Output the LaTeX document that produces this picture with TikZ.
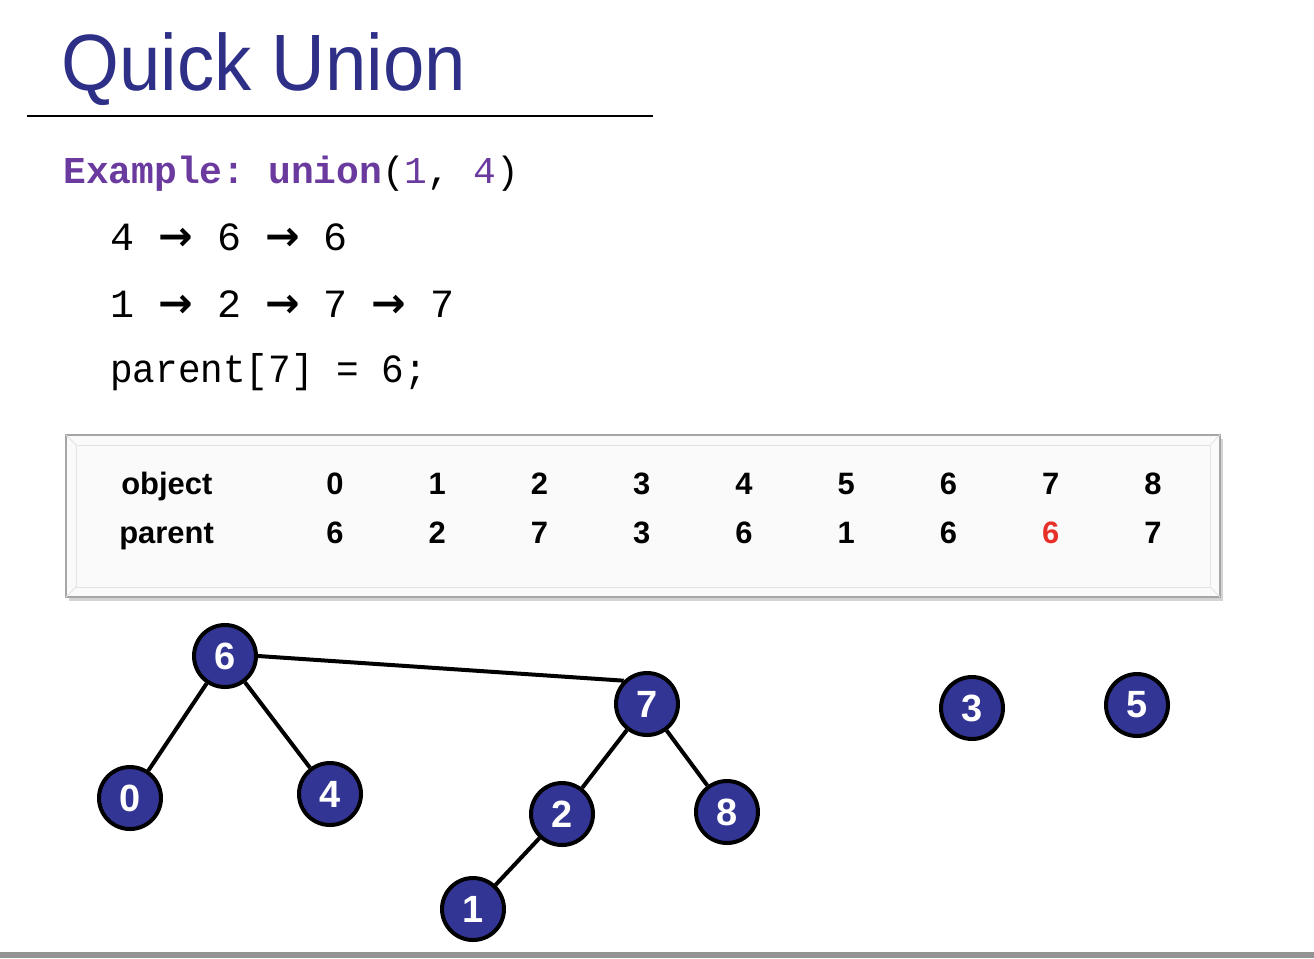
\documentclass[tikz,border=0pt]{standalone}
\usepackage{fontspec}
\usepackage{xcolor}
\setmainfont{Liberation Sans}
\setmonofont{Liberation Mono}
\newfontfamily\titlefont[FakeStretch=0.93]{Liberation Sans}
\newfontfamily\narrowmono[FakeStretch=0.94]{Liberation Mono}
\newfontfamily\arrowfont{DejaVu Sans}
\usetikzlibrary{positioning,backgrounds,shadows}
\definecolor{qublue}{HTML}{2E2F87}
\definecolor{qupurple}{HTML}{6A3A9E}
\definecolor{qufill}{HTML}{333594}
\definecolor{qured}{HTML}{E8302A}
\newcommand\codefont{\ttfamily\fontsize{22.8pt}{27pt}\selectfont}
\newcommand\arr{{\arrowfont\bfseries\fontsize{23.5pt}{27pt}\selectfont →}}
\tikzset{
  % slide text
  txt/.style={inner sep=0pt,anchor=base west},
  % table cells
  cell/.style={inner sep=0pt,anchor=base,font=\fontsize{17.6pt}{20pt}\selectfont\bfseries},
  rowlbl/.style={cell,anchor=base west},
  tablebox/.style={draw=gray!70,line width=0.05cm,fill=gray!4,
    drop shadow={opacity=0.35,shadow xshift=0.05cm,shadow yshift=-0.07cm}},
  bevel/.style={draw=gray!22,line width=0.02cm},
  % tree nodes
  unode/.style={circle,draw=black,fill=qufill,line width=0.08cm,
    minimum size=1.24cm,inner sep=0pt,text=white,
    font=\fontsize{21.6pt}{24pt}\selectfont\bfseries},
  treeedge/.style={line width=0.08cm,black},
}
\begin{document}
\begin{tikzpicture}[x=0.02cm,y=-0.02cm]
\useasboundingbox (0,0) rectangle (1314,958);

%% ---- title ----
\node[txt,text=qublue,font=\titlefont\fontsize{45.5pt}{50pt}\selectfont] (title) at (61,90) {Quick Union};
\coordinate (ruleL) at (27,116);
\coordinate (ruleR) at (653,116);
\draw[line width=0.045cm] (ruleL) -- (ruleR);

%% ---- example code ----
\node[txt,font=\ttfamily\fontsize{21.6pt}{26pt}\selectfont] (ex) at (63,183)
  {{\color{qupurple}\bfseries Example: union}(\textcolor{qupurple}{1}, \textcolor{qupurple}{4})};
\node[txt,font=\codefont] (find4) at (110,250) {4 \arr{} 6 \arr{} 6};
\node[txt,font=\codefont] (find1) at (110,317) {1 \arr{} 2 \arr{} 7 \arr{} 7};
\node[txt,font=\narrowmono\fontsize{22.8pt}{27pt}\selectfont] (assign) at (110,382) {parent[7] = 6;};

%% ---- parent table ----
\coordinate (tabNW) at (66,435);
\coordinate (tabSE) at (1220,597);
\draw[tablebox] (tabNW) rectangle (tabSE);
\coordinate (inNW) at (76,445);
\coordinate (inSE) at (1210,587);
\draw[bevel] (inNW) rectangle (inSE);
\draw[bevel] (tabNW) -- (inNW);
\draw[bevel] (tabSE) -- (inSE);
\draw[bevel] (66,597) -- (76,587);
\draw[bevel] (1220,435) -- (1210,445);

\node[rowlbl] (objlbl) at (121,494) {object};
\node[rowlbl] (parlbl) at (119,543) {parent};
\foreach \val/\col [count=\i from 0] in
  {6/black,2/black,7/black,3/black,6/black,1/black,6/black,6/qured,7/black}{
  \node[cell] (obj\i) at ({335+\i*102.25},494) {\i};
  \node[cell,text=\col] (par\i) at ({335+\i*102.25},543) {\val};
}

%% ---- trees ----
\node[unode] (t6) at (225,656) {6};
\node[unode] (t7) at (647,704) {7};
\node[unode] (t0) at (130,798) {0};
\node[unode] (t4) at (330,794) {4};
\node[unode] (t2) at (562,814) {2};
\node[unode] (t8) at (727,812) {8};
\node[unode] (t1) at (473,909) {1};
\node[unode] (t3) at (972,708) {3};
\node[unode] (t5) at (1137,705) {5};

\draw[treeedge] (t6.east) -- (t7.north west);
\draw[treeedge] (t6) -- (t0);
\draw[treeedge] (t6) -- (t4);
\draw[treeedge] (t7) -- (t2);
\draw[treeedge] (t7) -- (t8);
\draw[treeedge] (t2) -- (t1);

%% ---- footer bar ----
\coordinate (barNW) at (0,952);
\coordinate (barSE) at (1314,958);
\fill[gray!85] (barNW) rectangle (barSE);
\end{tikzpicture}
\end{document}
